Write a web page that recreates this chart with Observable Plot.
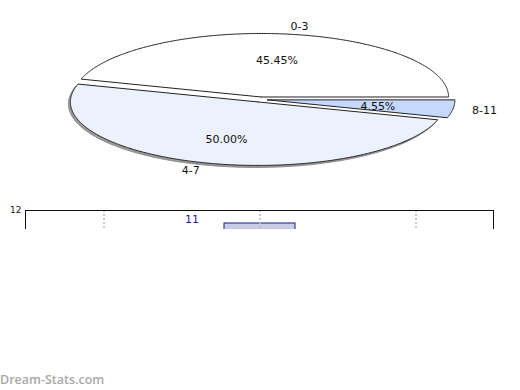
<!DOCTYPE html>
<html>
<head>
<meta charset="utf-8">
<script src="https://cdn.jsdelivr.net/npm/d3@7"></script>
<script src="https://cdn.jsdelivr.net/npm/@observablehq/plot@0.6"></script>
<style>
  html, body { margin: 0; padding: 0; background: #fff; }
  #wrap { position: relative; width: 520px; height: 390px; overflow: hidden; font-family: "DejaVu Sans", sans-serif; }
  #pie { position: absolute; left: 0; top: 0; }
  #bars { position: absolute; left: 0; top: 200px; width: 520px; height: 29px; overflow: hidden; }
  #mark { position: absolute; left: 0; top: 371px; font-family: "Open Sans", sans-serif; font-weight: 600; font-size: 12.5px; color: #a8a8a8; }
</style>
</head>
<body>
<div id="wrap">
  <div id="pie"></div>
  <div id="bars"></div>
  <div id="mark">Dream-Stats.com</div>
</div>
<script>
// ---- data ----
const categories = ["0-3", "4-7", "8-11"];
const counts = [10, 11, 1];
const sliceColors = ["#ffffff", "#ebf1fd", "#c6d9fd"];
const yTicks = [12];
const yMax = 12;

// ---- pie geometry (unit ellipse coordinates) ----
const total = d3.sum(counts);
const explode = 0.04;
let acc = 0;
const slices = categories.map((c, i) => {
  const a0 = acc / total * 2 * Math.PI;
  acc += counts[i];
  const a1 = acc / total * 2 * Math.PI;
  const m = (a0 + a1) / 2;
  const ox = explode * Math.cos(m), oy = explode * Math.sin(m);
  const pts = [{key: c, x: ox, y: oy}];
  const n = Math.max(2, Math.ceil((a1 - a0) / (Math.PI / 360)));
  for (let k = 0; k <= n; k++) {
    const a = a0 + (a1 - a0) * k / n;
    pts.push({key: c, x: ox + Math.cos(a), y: oy + Math.sin(a)});
  }
  pts.push({key: c, x: ox, y: oy});
  return {key: c, i, m, ox, oy, pts,
          pct: (counts[i] / total * 100).toFixed(2) + "%"};
});

const cx = 259.5, cy = 99, rx = 187.5, ry = 63.5;
const sliceMarks = [];
const s47 = slices[1];
sliceMarks.push(Plot.line(s47.pts, {x: "x", y: "y", z: "key", fill: "#9a9a9a", stroke: "#8a8a8a", strokeWidth: 1, dx: -2, dy: 2, curve: "linear"}));
for (const s of slices) {
  sliceMarks.push(Plot.line(s.pts, {x: "x", y: "y", z: "key", fill: sliceColors[s.i], stroke: "#222", strokeWidth: 1, curve: "linear"}));
}
const pctLabels = slices.map(s => ({x: 0.635 * Math.cos(s.m), y: 0.635 * Math.sin(s.m) - 0.02, t: s.pct}));
const catLabels = slices.map(s => ({x: 1.142 * Math.cos(s.m), y: 1.165 * Math.sin(s.m), t: s.key, right: Math.cos(s.m) >= 0}));

const pie = Plot.plot({
  width: 520, height: 200,
  marginTop: 0, marginBottom: 0, marginLeft: 0, marginRight: 0,
  x: {domain: [-1, 1], range: [cx - rx, cx + rx], axis: null},
  y: {domain: [-1, 1], range: [cy + ry, cy - ry], axis: null},
  style: {fontFamily: "DejaVu Sans, sans-serif", fontSize: "11px", background: "transparent", overflow: "visible"},
  marks: [
    ...sliceMarks,
    Plot.text(pctLabels, {x: "x", y: "y", text: "t", fill: "#111", fontSize: 11}),
    Plot.text(catLabels.filter(d => d.right), {x: "x", y: "y", text: "t", fill: "#111", fontSize: 11, textAnchor: "start"}),
    Plot.text(catLabels.filter(d => !d.right), {x: "x", y: "y", text: "t", fill: "#111", fontSize: 11, textAnchor: "end"})
  ]
});
document.getElementById("pie").appendChild(pie);

// ---- bar chart (clipped) ----
const barData = categories.map((c, i) => ({cat: c, v: counts[i]}));
const maxV = d3.max(counts);
const bars = Plot.plot({
  width: 520, height: 200,
  marginTop: 10, marginBottom: 34, marginLeft: 25, marginRight: 27,
  x: {domain: categories, paddingInner: 0.545, paddingOuter: 0.2725, axis: null},
  y: {domain: [0, yMax], axis: null},
  style: {fontFamily: "DejaVu Sans, sans-serif", background: "transparent"},
  marks: [
    Plot.barY(barData, {x: "cat", y: "v", fill: "#c9cce6", stroke: "#1a1a8f", strokeWidth: 1}),
    Plot.ruleX(categories, {x: d => d, stroke: "#b8b8b8", strokeWidth: 1.5, strokeDasharray: "2,2"}),
    Plot.text(barData.filter(d => d.v === maxV), {x: "cat", y: "v", text: d => String(d.v), dx: -68, dy: -4, fill: "#1a1a8f", fontSize: 11}),
    Plot.axisY({ticks: yTicks, tickSize: 0, tickPadding: 4, fontSize: 9, color: "#222", anchor: "left", label: null}),
    Plot.frame({stroke: "#111", strokeWidth: 1})
  ]
});
document.getElementById("bars").appendChild(bars);
</script>
</body>
</html>
